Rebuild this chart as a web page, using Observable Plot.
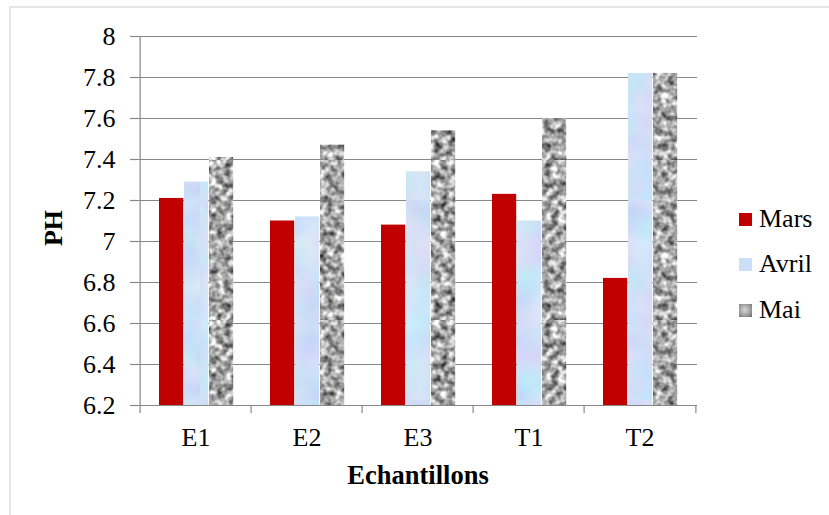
<!DOCTYPE html>
<html>
<head>
<meta charset="utf-8">
<script src="https://cdn.jsdelivr.net/npm/d3@7"></script>
<script src="https://cdn.jsdelivr.net/npm/@observablehq/plot@0.6"></script>
<style>
  html, body { margin: 0; padding: 0; background: #fff; }
  body { width: 829px; height: 515px; position: relative; overflow: hidden; font-family: "Liberation Serif", "Times New Roman", Times, "DejaVu Serif", serif; }
  #border { position: absolute; left: 9px; top: 6px; width: 830px; height: 520px; border-left: 2px solid #e6e6e6; border-top: 2px solid #e6e6e6; box-sizing: border-box; }
  #chart { position: absolute; left: 0; top: 0; }
  #chart svg, #chart svg text { font-family: "Liberation Serif", "Times New Roman", Times, "DejaVu Serif", serif !important; }
  #legend { position: absolute; left: 739px; top: 0; font-size: 26px; color: #000; font-family: "Liberation Serif", "Times New Roman", Times, "DejaVu Serif", serif; }
  .item { position: absolute; left: 0; display: flex; align-items: center; white-space: nowrap; height: 30px; }
  .sw { width: 13px; height: 13px; margin-right: 7px; }
</style>
</head>
<body>
<div id="border"></div>
<svg width="0" height="0" style="position:absolute">
  <defs>
    <filter id="fMai" x="0" y="0" width="1" height="1" color-interpolation-filters="sRGB">
      <feTurbulence type="fractalNoise" baseFrequency="0.14" numOctaves="2" seed="7"/>
      <feColorMatrix type="matrix" values="1.35 0 0 0 -0.03  1.35 0 0 0 -0.03  1.35 0 0 0 -0.03  0 0 0 0 1"/>
    </filter>
    <filter id="fAvril" x="0" y="0" width="1" height="1" color-interpolation-filters="sRGB">
      <feTurbulence type="fractalNoise" baseFrequency="0.03" numOctaves="2" seed="3"/>
      <feColorMatrix type="matrix" values="0.2 0 0 0 0.71  0 0.14 0 0 0.81  0 0 0.05 0 0.945  0 0 0 0 1"/>
    </filter>
    <pattern id="texMai" patternUnits="userSpaceOnUse" width="160" height="160">
      <rect width="160" height="160" fill="#999" filter="url(#fMai)"/>
    </pattern>
    <pattern id="texAvril" patternUnits="userSpaceOnUse" width="200" height="200">
      <rect width="200" height="200" fill="#cddff6" filter="url(#fAvril)"/>
    </pattern>
  </defs>
</svg>
<div id="chart"></div>
<div id="legend"></div>
<script>
// ---- data ----
const categories = ["E1", "E2", "E3", "T1", "T2"];
const seriesNames = ["Mars", "Avril", "Mai"];
const mars  = [7.21, 7.10, 7.08, 7.23, 6.82];
const avril = [7.29, 7.12, 7.34, 7.10, 7.82];
const mai   = [7.41, 7.47, 7.54, 7.60, 7.82];
const yTicks = [6.2, 6.4, 6.6, 6.8, 7.0, 7.2, 7.4, 7.6, 7.8, 8.0];
const yTickLabels = ["6.2", "6.4", "6.6", "6.8", "7", "7.2", "7.4", "7.6", "7.8", "8"];
const yTitle = "PH";
const xTitle = "Echantillons";

// ---- layout / style ----
const W = 829, H = 515;
const mL = 138, mR = 132, mT = 36, mB = 110;
const plotW = W - mL - mR, plotH = H - mT - mB;
const bw = plotW / categories.length;
const groupStart = 19, barW = 25;
const gridColor = "#878787";
const fs = 26;
const serif = "'Liberation Serif', 'Times New Roman', Times, 'DejaVu Serif', serif";
const fills = {Mars: "#c00000", Avril: "url(#texAvril)", Mai: "url(#texMai)"};
const legendSwatch = {
  Mars: "background:#c00000",
  Avril: "background:#cddff6",
  Mai: "background:radial-gradient(circle at 45% 45%, #d8d8d8 0%, #a0a0a0 55%, #6a6a6a 100%)"
};
const seriesValues = {Mars: mars, Avril: avril, Mai: mai};
const yMin = yTicks[0], yMax = yTicks[yTicks.length - 1];

const table = seriesNames.flatMap((s) => categories.map((c, i) => ({cat: c, series: s, value: seriesValues[s][i]})));

const barMarks = seriesNames.map((s, k) =>
  Plot.rectY(table.filter((d) => d.series === s), {
    x: "cat",
    y1: yMin,
    y2: "value",
    fill: fills[s],
    insetLeft: groupStart + k * barW,
    insetRight: bw - (groupStart + (k + 1) * barW)
  })
);

const chart = Plot.plot({
  width: W,
  height: H,
  marginLeft: mL, marginRight: mR, marginTop: mT, marginBottom: mB,
  style: {fontFamily: serif, fontSize: fs + "px", background: "transparent", color: "#000"},
  x: {type: "band", domain: categories, padding: 0},
  y: {domain: [yMin, yMax]},
  marks: [
    Plot.gridY(yTicks, {stroke: gridColor, strokeOpacity: 1, strokeWidth: 1.2}),
    ...barMarks,
    Plot.ruleY([yMin], {stroke: gridColor, strokeWidth: 1.2}),
    Plot.axisY(yTicks, {tickSize: 8, tickPadding: 15, stroke: gridColor, strokeWidth: 1.2, fontSize: fs, tickFormat: (d) => yTickLabels[yTicks.indexOf(d)], label: null}),
    Plot.axisX({tickSize: 0, tickPadding: 22, fontSize: fs, label: null}),
    // vertical axis line at the left edge
    Plot.ruleX([categories[0]], {x: (d) => d, dx: -bw / 2, stroke: gridColor, strokeWidth: 1.2, insetBottom: -8}),
    // category boundary ticks
    Plot.ruleX(categories.slice(1), {x: (d) => d, dx: -bw / 2, stroke: gridColor, strokeWidth: 1.2, insetTop: plotH, insetBottom: -8}),
    Plot.ruleX([categories[categories.length - 1]], {x: (d) => d, dx: bw / 2, stroke: gridColor, strokeWidth: 1.2, insetTop: plotH, insetBottom: -8}),
    Plot.text([yTitle], {frameAnchor: "left", textAnchor: "middle", lineAnchor: "middle", dx: -85, dy: 7, rotate: -90, fontWeight: "bold", fontSize: fs, fill: "#000", text: (d) => d}),
    Plot.text([xTitle], {frameAnchor: "bottom", textAnchor: "middle", lineAnchor: "middle", dy: 70, fontWeight: "bold", fontSize: fs + 0.5, fill: "#000", text: (d) => d})
  ]
});
document.getElementById("chart").appendChild(chart);

// ---- legend ----
const legend = document.getElementById("legend");
const legendY = [219, 264, 310];
seriesNames.forEach((s, k) => {
  const it = document.createElement("div");
  it.className = "item";
  it.style.top = (legendY[k] - 15) + "px";
  it.innerHTML = `<span class="sw" style="${legendSwatch[s]}"></span><span>${s}</span>`;
  legend.appendChild(it);
});
</script>
</body>
</html>
